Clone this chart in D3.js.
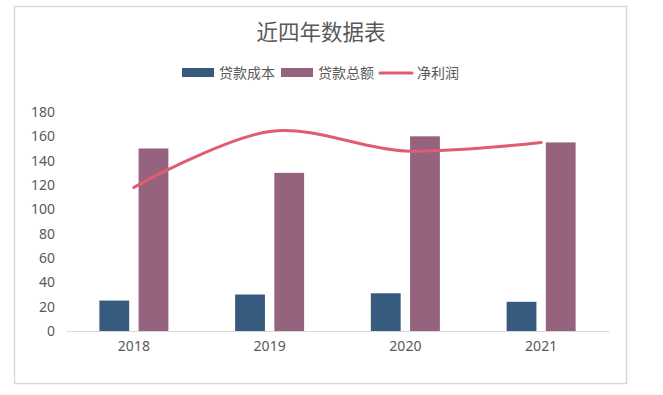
<!DOCTYPE html>
<html><head><meta charset="utf-8">
<script src="https://cdn.jsdelivr.net/npm/d3@7"></script>
<style>body{margin:0;background:#fff;}svg{display:block;font-family:"Microsoft YaHei","Noto Sans CJK SC","Noto Sans",sans-serif;}</style>
</head><body>
<script>
const categories = ["2018", "2019", "2020", "2021"];
const loanCost = [25, 30, 31, 24];
const loanTotal = [150, 130, 160, 155];
const netProfit = [118, 164, 148, 155];
const yTicks = [0, 20, 40, 60, 80, 100, 120, 140, 160, 180];
const seriesNames = ["贷款成本", "贷款总额", "净利润"];
const title = "近四年数据表";

const W = 663, H = 395;
const colors = {cost: "#375B7E", total: "#95637E", profit: "#E05C6F"};
const svg = d3.select("body").append("svg").attr("width", W).attr("height", H);

svg.append("rect").attr("x", 14.5).attr("y", 6.5).attr("width", 612).attr("height", 377)
  .attr("fill", "#fff").attr("stroke", "#D9D9D9").attr("stroke-width", 1.5);

svg.append("text").attr("x", 321).attr("y", 40).attr("text-anchor", "middle")
  .attr("font-size", 21.5).attr("fill", "#595959").text(title);

const x = d3.scaleBand().domain(categories).range([66, 609]);
const y = d3.scaleLinear().domain([0, 180]).range([331, 112]);
const inner = d3.scaleBand().domain(["cost", "total"]).range([0, 69]).paddingInner(0.24);

// y axis labels
const yAxis = d3.axisLeft(y).tickValues(yTicks).tickSize(0).tickPadding(0);
const gy = svg.append("g").attr("transform", "translate(55,0)").call(yAxis);
gy.select(".domain").remove();
gy.selectAll("text").attr("font-size", 14).attr("fill", "#595959")
  .attr("font-family", "'Noto Sans', sans-serif");

// bars
const groups = svg.append("g").selectAll("g").data(categories).join("g")
  .attr("transform", d => `translate(${x(d) + x.bandwidth()/2 - 34.5},0)`);
groups.append("rect").attr("x", inner("cost")).attr("width", inner.bandwidth())
  .attr("y", (d, i) => y(loanCost[i])).attr("height", (d, i) => y(0) - y(loanCost[i]))
  .attr("fill", colors.cost);
groups.append("rect").attr("x", inner("total")).attr("width", inner.bandwidth())
  .attr("y", (d, i) => y(loanTotal[i])).attr("height", (d, i) => y(0) - y(loanTotal[i]))
  .attr("fill", colors.total);

// x axis
const xAxis = d3.axisBottom(x).tickSize(0).tickPadding(10);
const gx = svg.append("g").attr("transform", "translate(0,331)").call(xAxis);
gx.select(".domain").attr("stroke", "#D9D9D9").attr("stroke-width", 1);
gx.selectAll("text").attr("font-size", 14).attr("fill", "#595959")
  .attr("font-family", "'Noto Sans', sans-serif");

// line
const line = d3.line().x((d, i) => x(categories[i]) + x.bandwidth()/2).y(d => y(d))
  .curve(d3.curveCardinal.tension(0));
svg.append("path").datum(netProfit).attr("d", line).attr("fill", "none")
  .attr("stroke", colors.profit).attr("stroke-width", 3).attr("stroke-linecap", "round");

// legend
const lg = svg.append("g");
lg.append("rect").attr("x", 182).attr("y", 68).attr("width", 32).attr("height", 9).attr("fill", colors.cost);
lg.append("text").attr("x", 219).attr("y", 78).attr("font-size", 14).attr("fill", "#595959").text(seriesNames[0]);
lg.append("rect").attr("x", 281).attr("y", 68).attr("width", 32).attr("height", 9).attr("fill", colors.total);
lg.append("text").attr("x", 318).attr("y", 78).attr("font-size", 14).attr("fill", "#595959").text(seriesNames[1]);
lg.append("line").attr("x1", 380).attr("x2", 412).attr("y1", 73).attr("y2", 73)
  .attr("stroke", colors.profit).attr("stroke-width", 3).attr("stroke-linecap", "round");
lg.append("text").attr("x", 417).attr("y", 78).attr("font-size", 14).attr("fill", "#595959").text(seriesNames[2]);
</script>
</body></html>
